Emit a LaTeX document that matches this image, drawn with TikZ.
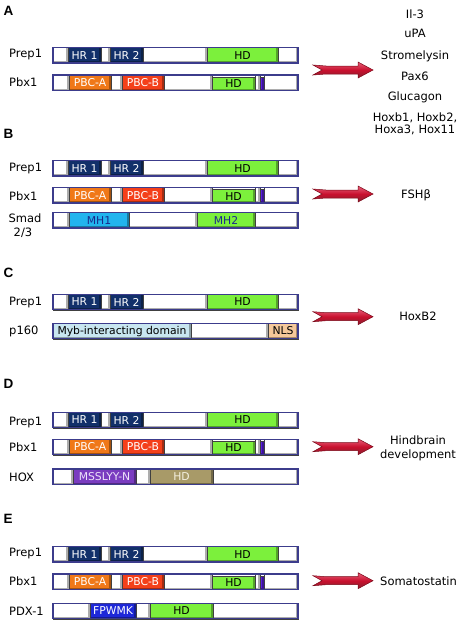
\documentclass[tikz,border=0pt]{standalone}
\usepackage{fontspec}
\setmainfont{DejaVu Sans}
\newfontfamily\lettfont{Liberation Sans}
\definecolor{hrblue}{HTML}{12306A}
\definecolor{hdgreen}{HTML}{7CF03C}
\definecolor{pbca}{HTML}{F07818}
\definecolor{pbcb}{HTML}{F4401A}
\definecolor{purp}{HTML}{5A1EE0}
\definecolor{mhblue}{HTML}{22B4EE}
\definecolor{mhtext}{HTML}{1A2A8A}
\definecolor{myb}{HTML}{C8E6F0}
\definecolor{nls}{HTML}{F5C89A}
\definecolor{msslyy}{HTML}{7A3CC0}
\definecolor{msstext}{HTML}{EDE2FA}
\definecolor{hoxhd}{HTML}{A89A68}
\definecolor{hoxtext}{HTML}{F4F0E0}
\definecolor{fpwmk}{HTML}{1E28D8}
\definecolor{barblue}{HTML}{3C3C8C}
\definecolor{arrred}{HTML}{C8102E}
\definecolor{arrlight}{HTML}{E8607A}
\definecolor{arrdark}{HTML}{7A0818}
\tikzset{
 lab/.style={anchor=base west, font=\fontsize{11.5}{13}\selectfont, inner sep=0pt},
 lab2/.style={anchor=base, font=\fontsize{11.5}{13}\selectfont, inner sep=0pt},
 outtext/.style={anchor=base, font=\fontsize{11.5}{13}\selectfont, inner sep=0pt},
 plet/.style={anchor=base west, font=\lettfont\bfseries\fontsize{13.5}{15}\selectfont, inner sep=0pt},
 segtext/.style={font=\fontsize{10.8}{12}\selectfont, inner sep=0pt},
 segline/.style={draw=black!75, line width=0.6pt},
 barline/.style={draw=barblue, line width=1.1pt},
 redarr/.style={top color=arrlight, bottom color=arrdark!90, middle color=arrred, draw=arrdark, line width=0.5pt}
}
\newcommand\psegm[8]{% name x1 x2 ytop color text tcolor inset
 \fill[#5] (#2,#4+#8) rectangle (#3,#4+15.5);
 \fill[#5!68!black] (#2,#4+13.5) rectangle (#3,#4+15.5);
 \fill[#5!68!black] (#3-1.8,#4+#8) rectangle (#3,#4+15.5);
 \draw[segline] (#2,#4+#8) rectangle (#3,#4+15.5);
 \node[segtext, text=#7] (#1-#2) at ({(#2+#3)/2},{#4+(15.5+#8)/2}) {#6};
}
\newcommand\protrow[3]{% name ytop segments
 \fill[white] (53,#2) rectangle (298,#2+15.5);
 \foreach \a/\b/\c/\t/\tc/\i in {#3} {\psegm{#1}{\a}{\b}{#2}{\c}{\t}{\tc}{\i}}
 \draw[barline] (53,#2) rectangle (298,#2+15.5);
}
\newcommand\prepbar[2]{\protrow{#1}{#2}{53/68/white//black/0, 68/101/hrblue/HR 1/white/0, 101/110/white//black/0, 110/143/hrblue/HR 2/white/0, 143/207/white//black/0, 207/278/hdgreen/HD/black/0, 278/298/white//black/0}}
\newcommand\pbxbar[2]{\protrow{#1}{#2}{53/69/white//black/0, 69/111/pbca/PBC-A/white/0, 111/122/white//black/0, 122/164/pbcb/PBC-B/white/0, 164/212/white//black/0, 212/255/hdgreen/HD/black/1.8, 255/260/white//black/0, 260/264/purp//white/1.8, 264/298/white//black/0}}
\newcommand\redarrow[2]{%
 \path[redarr] (313,#2-5) -- (326,#2-4) -- (358,#2-4) -- (358,#2-8) -- (373,#2) -- (358,#2+8) -- (358,#2+4) -- (326,#2+4) -- (313,#2+5) -- (322,#2) -- cycle;
 \coordinate (#1) at (373,#2);
}
\begin{document}
\begin{tikzpicture}[x=1pt,y=-1pt]
\useasboundingbox[fill=white] (0,0) rectangle (462,621);
% ---------- A
\node[plet] (lA) at (3.3,15) {A};
\node[lab] (lAprep) at (9,57.3) {Prep1};
\node[lab] (lApbx) at (9,86) {Pbx1};
\prepbar{Aprep}{47.5}
\pbxbar{Apbx}{75}
\redarrow{arrA}{70}
\node[outtext] (oA1) at (415,18) {Il-3};
\node[outtext] (oA2) at (415,37.5) {uPA};
\node[outtext] (oA3) at (415,59) {Stromelysin};
\node[outtext] (oA4) at (415,80) {Pax6};
\node[outtext] (oA5) at (415,100.7) {Glucagon};
\node[outtext] (oA6) at (415,121.7) {Hoxb1, Hoxb2,};
\node[outtext] (oA7) at (415,133.3) {Hoxa3, Hox11};
% ---------- B
\node[plet] (lB) at (3.3,138.7) {B};
\node[lab] (lBprep) at (9,171.7) {Prep1};
\node[lab] (lBpbx) at (9,200) {Pbx1};
\node[lab2] (lBsmad) at (25,222.3) {Smad};
\node[lab2] (lBsmad2) at (23,236) {2/3};
\prepbar{Bprep}{160.5}
\pbxbar{Bpbx}{187.5}
\protrow{Bsmad}{212.5}{53/69/white//black/0, 69/129/mhblue/MH1/mhtext/0, 129/197/white//black/0, 197/255/hdgreen/MH2/mhtext/0, 255/298/white//black/0}
\redarrow{arrB}{194}
\node[outtext] (oB) at (416,198) {FSHβ};
% ---------- C
\node[plet] (lC) at (3.3,277.3) {C};
\node[lab] (lCprep) at (9,305) {Prep1};
\node[lab] (lCp) at (9,334) {p160};
\prepbar{Cprep}{294.3}
\protrow{Cp}{323.3}{53/191/myb/Myb-interacting domain/black/0, 191/268/white//black/0, 268/298/nls/NLS/black/0}
\redarrow{arrC}{316.7}
\node[outtext] (oC) at (418,320.7) {HoxB2};
% ---------- D
\node[plet] (lD) at (3.3,388.3) {D};
\node[lab] (lDprep) at (9,425) {Prep1};
\node[lab] (lDpbx) at (9,451.7) {Pbx1};
\node[lab] (lDhox) at (9,481.7) {HOX};
\prepbar{Dprep}{412.3}
\pbxbar{Dpbx}{439.3}
\protrow{Dhox}{469}{53/73/white//black/0, 73/136/msslyy/MSSLYY-N/msstext/0, 136/150/white//black/0, 150/213/hoxhd/HD/hoxtext/0, 213/298/white//black/0}
\redarrow{arrD}{446.7}
\node[outtext] (oD1) at (418,444.3) {Hindbrain};
\node[outtext] (oD2) at (418,458.3) {development};
% ---------- E
\node[plet] (lE) at (3.3,523.3) {E};
\node[lab] (lEprep) at (9,556.7) {Prep1};
\node[lab] (lEpbx) at (9,585) {Pbx1};
\node[lab] (lEpdx) at (9,615) {PDX-1};
\prepbar{Eprep}{546.5}
\pbxbar{Epbx}{574}
\protrow{Epdx}{603.3}{53/90/white//black/0, 90/136/fpwmk/FPWMK/white/0, 136/150/white//black/0, 150/213/hdgreen/HD/black/0, 213/298/white//black/0}
\redarrow{arrE}{580.7}
\node[outtext, anchor=base west] (oE) at (380,585) {Somatostatin};
\end{tikzpicture}
\end{document}
